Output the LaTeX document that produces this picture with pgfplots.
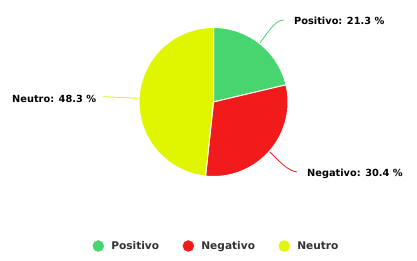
\documentclass[border=0pt]{standalone}
\usepackage{pgfplots}
\usepackage{pgfplotstable}
\pgfplotsset{compat=1.18}
\usepackage{fontspec}
\setmainfont{DejaVu Sans}
\definecolor{cpos}{HTML}{46D56E}
\definecolor{cneg}{HTML}{F21B1B}
\definecolor{cneu}{HTML}{E0F500}
\definecolor{ctxt}{HTML}{333333}
\pgfplotstableread{
label value
Positivo 21.3
Negativo 30.4
Neutro 48.3
}\piedata
\begin{document}
\begin{tikzpicture}
\pgfplotstablegetelem{0}{value}\of\piedata \let\vA\pgfplotsretval
\pgfplotstablegetelem{1}{value}\of\piedata \let\vB\pgfplotsretval
\pgfplotstablegetelem{2}{value}\of\piedata \let\vC\pgfplotsretval
\pgfmathsetmacro\aA{90-3.6*\vA}
\pgfmathsetmacro\aB{\aA-3.6*\vB}
\pgfmathsetmacro\aC{\aB-3.6*\vC}
\begin{axis}[
  width=417pt, height=261pt, scale only axis,
  xmin=0, xmax=417, ymin=0, ymax=261,
  hide axis, clip=false,
  legend columns=3,
  legend style={draw=none, fill=none, at={(axis cs:215.5,15)}, anchor=center,
    font=\fontsize{10.6}{12}\selectfont\bfseries, text=ctxt,
    /tikz/every even column/.append style={column sep=23.5pt},
    inner sep=0pt, nodes={inner sep=0pt}},
  legend image code/.code={\fill[#1] (5.5pt,0pt) circle (5.5pt); \path[draw=none, fill=none] (0pt,0pt) -- (18.5pt,0pt);},
]
\addplot[forget plot, fill=cpos, draw=white, line width=1pt, domain=\aA:90, samples=80, variable=\t]
  ({213.5+74.5*cos(t)},{159+74.5*sin(t)}) -- (axis cs:213.5,159) -- cycle;
\addplot[forget plot, fill=cneg, draw=white, line width=1pt, domain=\aB:\aA, samples=80, variable=\t]
  ({213.5+74.5*cos(t)},{159+74.5*sin(t)}) -- (axis cs:213.5,159) -- cycle;
\addplot[forget plot, fill=cneu, draw=white, line width=1pt, domain=\aC:\aB, samples=120, variable=\t]
  ({213.5+74.5*cos(t)},{159+74.5*sin(t)}) -- (axis cs:213.5,159) -- cycle;
% connectors
\draw[cpos, line width=0.8pt] (axis cs:260,218) .. controls (axis cs:270,232) and (axis cs:276,241) .. (axis cs:284,241);
\draw[cneg, line width=0.8pt] (axis cs:270,109) .. controls (axis cs:280,99) and (axis cs:288,90) .. (axis cs:297,89);
\draw[cneu, line width=0.8pt] (axis cs:139,162.7) .. controls (axis cs:125,163.3) .. (axis cs:103,164.3);
% labels
\node[anchor=west, inner sep=0pt, font=\fontsize{9.8}{11}\selectfont\bfseries] at (axis cs:294,240) {Positivo: 21.3 \%};
\node[anchor=west, inner sep=0pt, font=\fontsize{9.8}{11}\selectfont\bfseries] at (axis cs:307,87) {Negativo: 30.4 \%};
\node[anchor=west, inner sep=0pt, font=\fontsize{9.8}{11}\selectfont\bfseries] at (axis cs:12,162) {Neutro: 48.3 \%};
\addlegendimage{cpos}
\addlegendentry{Positivo}
\addlegendimage{cneg}
\addlegendentry{Negativo}
\addlegendimage{cneu}
\addlegendentry{Neutro}
\end{axis}
\path (current axis.south west) rectangle (current axis.north east);
\end{tikzpicture}
\end{document}
